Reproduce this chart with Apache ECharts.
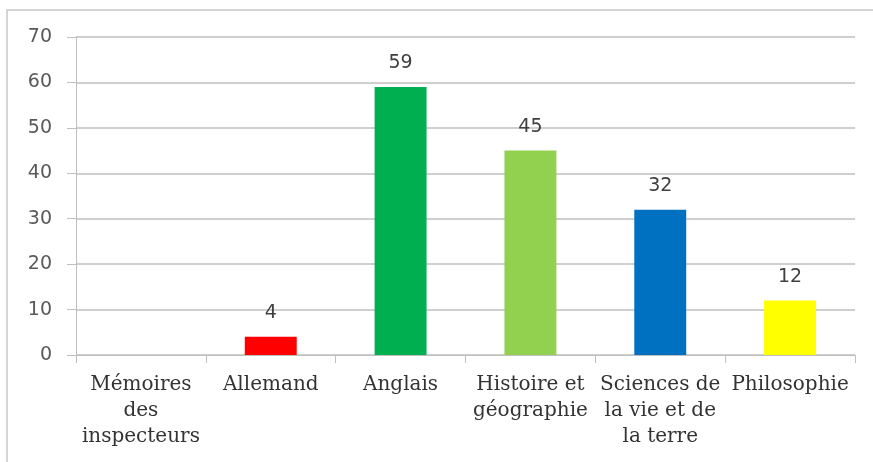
<!DOCTYPE html>
<html>
<head>
<meta charset="utf-8">
<script src="https://cdn.jsdelivr.net/npm/echarts@6/dist/echarts.min.js"></script>
<style>
  html, body { margin: 0; padding: 0; background: #fff; }
  #chart { width: 873px; height: 462px; }
</style>
</head>
<body>
<div id="chart"></div>
<script>
// categories (line breaks as in the original labels)
const subjects = [
  'Mémoires\ndes\ninspecteurs',
  'Allemand',
  'Anglais',
  'Histoire et\ngéographie',
  'Sciences de\nla vie et de\nla terre',
  'Philosophie'
];
const counts = [0, 4, 59, 45, 32, 12];
const barColors = ['#4f81bd', '#ff0000', '#00b050', '#92d050', '#0070c0', '#ffff00'];
const yTicks = { min: 0, max: 70, interval: 10 };

const chart = echarts.init(document.getElementById('chart'));
const gridColor = '#bfbfbf';

chart.setOption({
  animation: false,
  graphic: [{
    type: 'rect',
    shape: { x: 7, y: 10, width: 900, height: 500 },
    style: { fill: 'none', stroke: '#c8c8c8', lineWidth: 1.5 },
    z: -1
  }],
  grid: { left: 76, right: 18, top: 37, bottom: 107 },
  xAxis: {
    type: 'category',
    data: subjects,
    axisLine: { lineStyle: { color: gridColor } },
    axisTick: { show: true, length: 8, lineStyle: { color: gridColor } },
    axisLabel: {
      interval: 0,
      margin: 17,
      fontFamily: 'DejaVu Serif',
      fontSize: 20,
      lineHeight: 26,
      color: '#333333',
      align: 'center'
    }
  },
  yAxis: {
    type: 'value',
    min: yTicks.min,
    max: yTicks.max,
    interval: yTicks.interval,
    axisLine: { show: true, lineStyle: { color: gridColor } },
    axisTick: { show: true, length: 9, lineStyle: { color: gridColor } },
    splitLine: { lineStyle: { color: gridColor, width: 1.5 } },
    axisLabel: {
      margin: 24,
      fontFamily: 'DejaVu Sans',
      fontSize: 19,
      color: '#595959'
    }
  },
  series: [{
    type: 'bar',
    barWidth: '40%',
    data: counts.map((v, i) => ({ value: v, itemStyle: { color: barColors[i] } })),
    label: {
      show: true,
      position: 'top',
      distance: 14,
      fontFamily: 'DejaVu Sans',
      fontSize: 19,
      color: '#404040',
      formatter: p => (p.value === 0 ? '' : p.value)
    }
  }]
});
</script>
</body>
</html>
